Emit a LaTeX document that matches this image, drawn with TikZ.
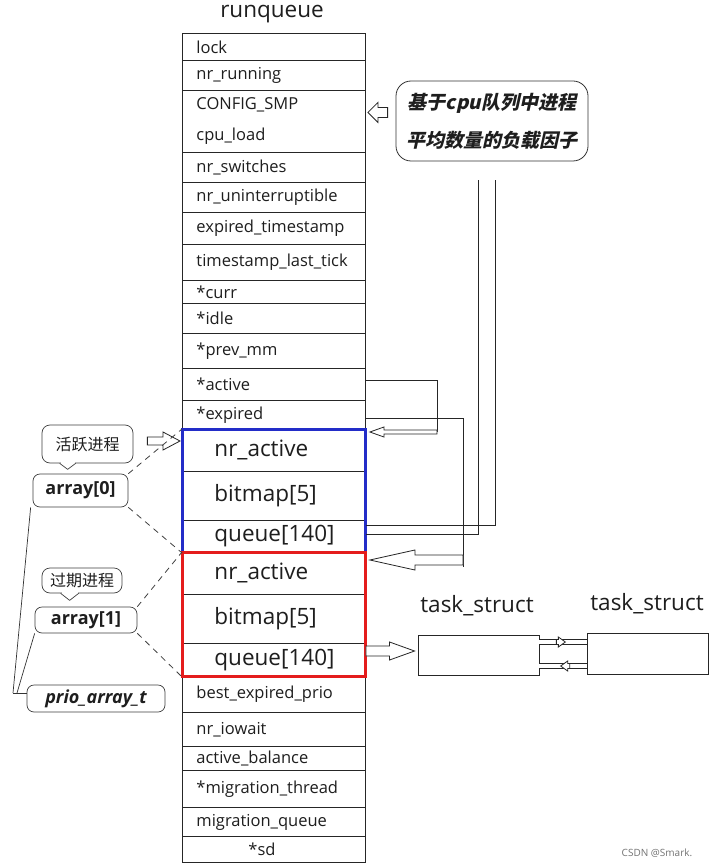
\documentclass[tikz,border=0pt]{standalone}
\usepackage{fontspec}
\setmainfont{Open Sans}
\newfontfamily\cjk{Noto Sans CJK SC}
\newfontfamily\cjkslant{Noto Sans CJK SC}[FakeSlant=0.22]
\usetikzlibrary{calc}
\definecolor{bluebox}{RGB}{35,45,200}
\definecolor{redbox}{RGB}{228,28,28}
\definecolor{txt}{RGB}{30,30,30}
\tikzset{
  ln/.style={line width=0.9pt, draw=black!85},
  harrow/.style={line width=0.8pt, draw=black!85, fill=white},
  dsh/.style={line width=0.8pt, draw=black!75, dash pattern=on 6pt off 5pt},
  dbl/.style={line width=0.8pt, draw=black!85, double=white, double distance=3.5pt},
  rowbox/.style={ln, anchor=north west, text width=155pt, inner xsep=14pt, inner ysep=0pt,
    align=left, text=txt, font=\fontsize{16.5}{18}\selectfont},
  bigrow/.style={rowbox, text width=119pt, inner xsep=32pt, font=\fontsize{22.5}{26}\selectfont},
  bubble/.style={line width=0.7pt, draw=black!75, rounded corners=8pt, inner sep=0pt, text=txt},
  abox/.style={line width=0.7pt, draw=black!75, rounded corners=7pt, inner sep=0pt, text=txt,
    font=\fontsize{18}{20}\selectfont},
  tbox/.style={ln, minimum width=121pt, minimum height=40pt, inner sep=0pt},
  lbl/.style={text=txt, font=\fontsize{22.5}{26}\selectfont, inner sep=0pt}
}
\newcommand{\hollowarr}[5]{%
  \draw[harrow] let \p1=#1, \p2=#2, \n1={ifthenelse(\x2>\x1,1,-1)} in
  (\x1,{\y2+#3}) -- ({\x2-(\n1)*#5},{\y2+#3}) -- ({\x2-(\n1)*#5},{\y2+#4}) -- (\x2,\y2)
  -- ({\x2-(\n1)*#5},{\y2-#4}) -- ({\x2-(\n1)*#5},{\y2-#3}) -- (\x1,{\y2-#3}) -- cycle;}
\begin{document}
\begin{tikzpicture}[x=1pt,y=-1pt]
\useasboundingbox[fill=white] (0,0) rectangle (710,866);

\node[lbl] (title) at (272,14) {runqueue};

% runqueue rows
\node[rowbox, minimum height=27pt] (r1) at (182,33) {lock};
\node[rowbox, minimum height=30pt] (r2) at (182,60) {nr\_running};
\node[rowbox, minimum height=62pt] (r3) at (182,90) {CONFIG\_SMP\\[13pt]cpu\_load};
\node[rowbox, minimum height=30pt] (r4) at (182,152) {nr\_switches};
\node[rowbox, minimum height=30pt] (r5) at (182,182) {nr\_uninterruptible};
\node[rowbox, minimum height=32pt] (r6) at (182,212) {expired\_timestamp};
\node[rowbox, minimum height=36pt] (r7) at (182,244) {timestamp\_last\_tick};
\node[rowbox, minimum height=23pt] (r8) at (182,280) {*curr};
\node[rowbox, minimum height=30pt] (r9) at (182,303) {*idle};
\node[rowbox, minimum height=35pt] (r10) at (182,333) {*prev\_mm};
\node[rowbox, minimum height=32pt] (r11) at (182,368) {*active};
\node[rowbox, minimum height=29pt] (r12) at (182,400) {*expired};
\node[bigrow, minimum height=42pt] (b1) at (182,429) {nr\_active};
\node[bigrow, minimum height=49pt] (b2) at (182,471) {bitmap[5]};
\node[bigrow, minimum height=32pt] (b3) at (182,520) {queue[140]};
\node[bigrow, minimum height=42pt] (c1) at (182,552) {nr\_active};
\node[bigrow, minimum height=49pt] (c2) at (182,594) {bitmap[5]};
\node[bigrow, minimum height=33pt] (c3) at (182,643) {queue[140]};
\node[rowbox, minimum height=36pt] (r13) at (182,676) {best\_expired\_prio};
\node[rowbox, minimum height=34pt] (r14) at (182,712) {nr\_iowait};
\node[rowbox, minimum height=24pt] (r15) at (182,746) {active\_balance};
\node[rowbox, minimum height=37pt] (r16) at (182,770) {*migration\_thread};
\node[rowbox, minimum height=29pt] (r17) at (182,807) {migration\_queue};
\node[rowbox, minimum height=26pt] (r18) at (182,836) {\hspace*{52pt}*sd};

\draw[bluebox, line width=3pt] (b1.north west) rectangle (b3.south east);
\draw[redbox, line width=3pt] (c1.north west) rectangle (c3.south east);

% load-factor callout
\node[line width=0.8pt, draw=black!80, rounded corners=15pt, minimum width=192pt, minimum height=80pt,
  align=center, inner sep=0pt, text=txt, font=\cjkslant\bfseries\fontsize{19}{38}\selectfont]
  (load) at (492,121) {基于cpu队列中进程\\平均数量的负载因子};
\hollowarr{($(load.west)+(-8,-9)$)}{($(r3.east)+(2,-9)$)}{5pt}{10pt}{10pt}

% *active -> active array
\coordinate (A1) at (437,380);
\coordinate (A2) at (437,432);
\draw[ln] (r11.east |- A1) -- (A1) -- (A2);
\hollowarr{(A2)}{($(b1.north east)+(4,3)$)}{2pt}{5pt}{14pt}

% *expired -> expired array
\coordinate (E1) at (463,418);
\coordinate (E2) at (463,567);
\coordinate (E3) at (463,560);
\draw[ln] (r12.east |- E1) -- (E1) -- (E2);
\hollowarr{(E3)}{($(c1.north east)+(4,8)$)}{5pt}{10pt}{45pt}

% queue[140] of active array: two lines upward
\coordinate (Q1) at (495,180);
\coordinate (Q2) at (478,180);
\draw[ln] ($(b3.north east)+(0,5)$) -| (Q1);
\draw[ln] ($(b3.north east)+(0,14)$) -| (Q2);

% task_structs
\node[tbox] (t1) at (478.5,655) {};
\node[tbox, minimum height=41pt] (t2) at (647.5,653.5) {};
\node[lbl] (t1l) at (477,606) {task\_struct};
\node[lbl] (t2l) at (647,604) {task\_struct};
\coordinate (S) at ($(c3.north east)+(0,8)$);
\hollowarr{(S)}{($(t1.west |- S)+(-3,0)$)}{5pt}{9pt}{25pt}

\coordinate (P1) at ($(t1.east)+(0,-13)$);
\coordinate (P2) at ($(t1.east)+(0,11)$);
\coordinate (M1) at ($(P1)!0.55!(P1 -| t2.west)$);
\coordinate (M2) at ($(P2 -| t2.west)!0.55!(P2)$);
\draw[dbl] (P1) -- (P1 -| t2.west);
\draw[dbl] (P2) -- (P2 -| t2.west);
\hollowarr{($(M1)+(-9,0)$)}{(M1)}{2.5pt}{5pt}{7pt}
\hollowarr{($(M2)+(9,0)$)}{(M2)}{2.5pt}{5pt}{7pt}

% left callouts
\node[bubble, minimum width=91pt, minimum height=38pt, font=\cjk\fontsize{16}{18}\selectfont] (act) at (87.5,444) {活跃进程};
\fill[white] ($(act.south west)+(19,-1.5)$) rectangle ($(act.south west)+(33,1.5)$);
\draw[line width=0.7pt, draw=black!75] ($(act.south west)+(18,0)$) -- ($(act.south west)+(26,6)$) -- ($(act.south west)+(34,0)$);
\node[bubble, minimum width=80pt, minimum height=25pt, font=\cjk\fontsize{16}{18}\selectfont] (exq) at (82,580.5) {过期进程};
\fill[white] ($(exq.south west)+(20,-1.5)$) rectangle ($(exq.south west)+(36,1.5)$);
\draw[line width=0.7pt, draw=black!75] ($(exq.south west)+(19,0)$) -- ($(exq.south west)+(28,7)$) -- ($(exq.south west)+(37,0)$);

\hollowarr{($(act.east)+(14,-3)$)}{($(b1.north west)+(-2,12)$)}{4pt}{9pt}{17pt}

\node[abox, minimum width=95pt, minimum height=33pt] (a0) at (80.5,490.5) {\bfseries array[0]};
\node[abox, minimum width=102pt, minimum height=26pt] (a1) at (86,620) {\bfseries array[1]};
\node[abox, minimum width=138pt, minimum height=27pt] (pat) at (96,698.5) {\bfseries\itshape prio\_array\_t};

\draw[dsh] (a0.north east) -- (b1.north west);
\draw[dsh] (a0.south east) -- (b3.south west);
\draw[dsh] (a1.north east) -- (c1.north west);
\draw[dsh] (a1.south east) -- (c3.south west);

\coordinate (J) at (13,693);
\draw[line width=0.7pt, draw=black!80] (J) -- (J -| pat.west);
\draw[line width=0.7pt, draw=black!80] (J) -- ($(a0.south west)+(-2,0)$);
\draw[line width=0.7pt, draw=black!80] ($(J)+(4,0)$) -- (a1.south west);

\node[text=black!55, font=\fontsize{10}{12}\selectfont, inner sep=0pt] (csdn) at (657,853) {CSDN @Smark.};
\end{tikzpicture}
\end{document}
